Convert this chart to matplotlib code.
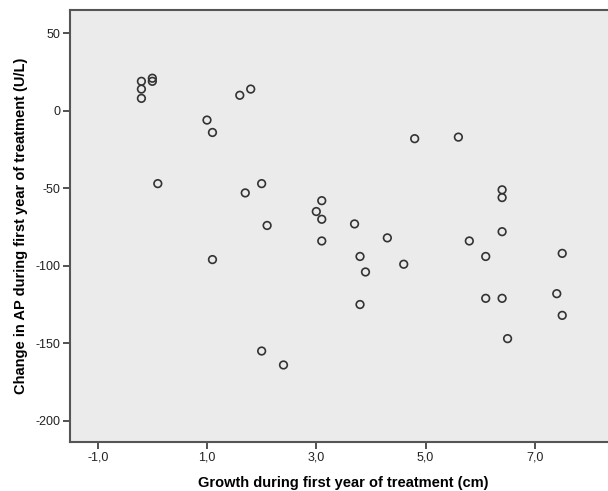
import numpy as np
import matplotlib.pyplot as plt
from matplotlib.ticker import FuncFormatter

# groei in eerste jaar (cm) en verandering AP (U/L)
growth = [-0.2, -0.2, -0.2, 0.0, 0.0, 0.1, 1.6, 1.8,
          1.0, 1.1, 2.0, 1.7, 3.1, 3.0, 3.1, 2.1, 3.7, 4.3, 3.1, 1.1,
          3.8, 4.6, 3.9, 3.8, 2.0, 2.4, 4.8, 5.6,
          6.4, 6.4, 6.4, 5.8, 6.1, 7.5, 6.1, 6.4, 7.4, 7.5, 6.5]
ap_change = [19, 14, 8, 21, 19, -47, 10, 14,
             -6, -14, -47, -53, -58, -65, -70, -74, -73, -82, -84, -96,
             -94, -99, -104, -125, -155, -164, -18, -17,
             -51, -56, -78, -84, -94, -92, -121, -121, -118, -132, -147]

x_ticks = [-1.0, 1.0, 3.0, 5.0, 7.0]
y_ticks = [50, 0, -50, -100, -150, -200]

plt.rcParams['font.family'] = ['Liberation Sans', 'DejaVu Sans']

fig = plt.figure(figsize=(6.08, 4.91), dpi=100)
ax = fig.add_axes([0.1151, 0.1004, 0.8995, 0.8792])
ax.set_facecolor('#ebebeb')

ax.scatter(growth, ap_change, s=30, facecolors='none', edgecolors='#333333',
           linewidths=1.2, zorder=3)

ax.set_xlim(-1.507, 8.5)
ax.set_ylim(-213.5, 65)
ax.set_xticks(x_ticks)
ax.set_yticks(y_ticks)
ax.xaxis.set_major_formatter(FuncFormatter(lambda v, p: f'{v:.1f}'.replace('.', ',')))
ax.yaxis.set_major_formatter(FuncFormatter(lambda v, p: f'{int(round(v))}'))
ax.tick_params(axis='both', direction='out', length=5, width=1.2, color='#333333',
               labelsize=9, labelcolor='#222222', pad=2)

for side in ['left', 'bottom', 'top']:
    ax.spines[side].set_color('#555555')
    ax.spines[side].set_linewidth(1.5)
ax.spines['right'].set_visible(False)

ax.set_xlabel('Growth during first year of treatment (cm)', fontsize=10.5,
              fontweight='bold', labelpad=9)
ax.set_ylabel('Change in AP during first year of treatment (U/L)', fontsize=10.5,
              fontweight='bold', labelpad=5)

fig.savefig('out.png', dpi=100, facecolor='white')
